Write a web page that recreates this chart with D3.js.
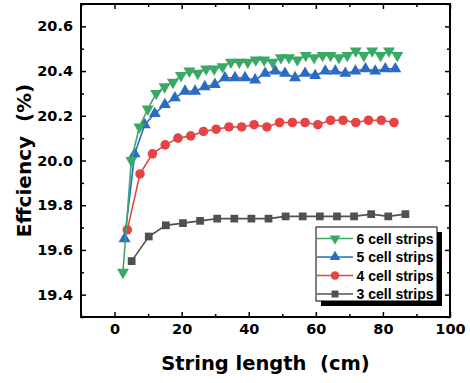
<!DOCTYPE html>
<html lang="en">
<head>
  <meta charset="UTF-8">
  <title>Efficiency vs string length</title>
  <script src="https://d3js.org/d3.v7.min.js"></script>
  <style>
    body { margin: 0; background: #fff; }
    .tick text { font-family: "DejaVu Sans", sans-serif; font-weight: bold; font-size: 14.5px; fill: #000; }
    .axis path { display: none; }
    .axis line { stroke: #000; stroke-width: 1.5px; }
  </style>
</head>
<body>
  <svg width="470" height="383" id="chart"></svg>
  <script>
    // series
    const seriesNames = ["6 cell strips", "5 cell strips", "4 cell strips", "3 cell strips"];

    const x6 = [2.5, 5.0, 7.4, 9.9, 12.4, 14.9, 17.4, 19.8, 22.3, 24.8, 27.3, 29.7, 32.2, 34.7, 37.2, 39.7, 42.1,
      44.6, 47.1, 49.6, 52.0, 54.5, 57.0, 59.5, 62.0, 64.4, 66.9, 69.4, 71.9, 74.3, 76.8, 79.3, 81.8, 84.3];
    const y6 = [19.50, 20.00, 20.15, 20.23, 20.30, 20.33, 20.35, 20.38, 20.40, 20.39, 20.41, 20.41, 20.42, 20.44, 20.44, 20.44, 20.45,
      20.45, 20.44, 20.46, 20.46, 20.45, 20.47, 20.46, 20.47, 20.47, 20.46, 20.47, 20.49, 20.47, 20.49, 20.47, 20.49, 20.47];

    const x5 = [3.0, 6.0, 9.0, 12.0, 15.0, 18.0, 21.0, 24.0, 26.9, 29.9, 32.9, 35.9, 38.9, 41.9,
      44.9, 47.9, 50.8, 53.8, 56.8, 59.8, 62.8, 65.8, 68.8, 71.8, 74.8, 77.7, 80.7, 83.7];
    const y5 = [19.65, 20.03, 20.16, 20.21, 20.25, 20.28, 20.31, 20.31, 20.33, 20.34, 20.37, 20.37, 20.37, 20.36,
      20.39, 20.40, 20.39, 20.37, 20.39, 20.38, 20.40, 20.40, 20.39, 20.40, 20.41, 20.40, 20.41, 20.41];

    const x4 = [3.8, 7.6, 11.3, 15.1, 18.9, 22.7, 26.5, 30.3, 34.1, 37.9, 41.6,
      45.4, 49.2, 53.0, 56.8, 60.6, 64.4, 68.1, 71.9, 75.7, 79.5, 83.3];
    const y4 = [19.69, 19.94, 20.03, 20.07, 20.10, 20.11, 20.13, 20.14, 20.15, 20.15, 20.16,
      20.15, 20.17, 20.17, 20.17, 20.16, 20.18, 20.18, 20.17, 20.18, 20.18, 20.17];

    const x3 = [5.1, 10.2, 15.3, 20.4, 25.5, 30.6, 35.7, 40.8, 45.9, 51.0, 56.1, 61.2, 66.3, 71.4, 76.5, 81.6, 86.7];
    const y3 = [19.55, 19.66, 19.71, 19.72, 19.73, 19.74, 19.74, 19.74, 19.74, 19.75, 19.75, 19.75, 19.75, 19.75, 19.76, 19.75, 19.76];

    const xMajor = [0, 20, 40, 60, 80, 100];
    const xMinor = [-10, 10, 30, 50, 70, 90];
    const yMajor = [19.4, 19.6, 19.8, 20.0, 20.2, 20.4, 20.6];
    const yMinor = [19.3, 19.5, 19.7, 19.9, 20.1, 20.3, 20.5, 20.7];

    const svg = d3.select("#chart");
    const margin = { top: 4, right: 20, bottom: 66, left: 81 };
    const width = 470 - margin.left - margin.right;
    const height = 383 - margin.top - margin.bottom;
    const g = svg.append("g").attr("transform", `translate(${margin.left},${margin.top})`);

    const x = d3.scaleLinear().domain([-10, 100]).range([0, width]);
    const y = d3.scaleLinear().domain([19.3, 20.7]).range([height, 0]);

    const series = [
      { name: seriesNames[3], xs: x3, ys: y3, color: "#505050", symbol: d3.symbolSquare, size: 60, rot: 0 },
      { name: seriesNames[2], xs: x4, ys: y4, color: "#e54444", symbol: d3.symbolCircle, size: 72, rot: 0 },
      { name: seriesNames[1], xs: x5, ys: y5, color: "#2b6bc2", symbol: d3.symbolTriangle, size: 62, rot: 0 },
      { name: seriesNames[0], xs: x6, ys: y6, color: "#3aa866", symbol: d3.symbolTriangle, size: 62, rot: 180 }
    ];

    // axes, ticks pointing inward on all four sides
    g.append("g").attr("class", "axis").attr("transform", `translate(0,${height})`)
      .call(d3.axisBottom(x).tickValues(xMajor).tickSizeInner(-5).tickSizeOuter(0).tickPadding(7));
    g.append("g").attr("class", "axis").attr("transform", `translate(0,${height})`)
      .call(d3.axisBottom(x).tickValues(xMinor).tickSizeInner(-3).tickSizeOuter(0).tickFormat(""));
    g.append("g").attr("class", "axis")
      .call(d3.axisTop(x).tickValues(xMajor).tickSizeInner(-5).tickSizeOuter(0).tickFormat(""));
    g.append("g").attr("class", "axis")
      .call(d3.axisTop(x).tickValues(xMinor).tickSizeInner(-3).tickSizeOuter(0).tickFormat(""));

    g.append("g").attr("class", "axis")
      .call(d3.axisLeft(y).tickValues(yMajor).tickSizeInner(-5).tickSizeOuter(0).tickPadding(8).tickFormat(d3.format(".1f")));
    g.append("g").attr("class", "axis")
      .call(d3.axisLeft(y).tickValues(yMinor).tickSizeInner(-3).tickSizeOuter(0).tickFormat(""));
    g.append("g").attr("class", "axis").attr("transform", `translate(${width},0)`)
      .call(d3.axisRight(y).tickValues(yMajor).tickSizeInner(-5).tickSizeOuter(0).tickFormat(""));
    g.append("g").attr("class", "axis").attr("transform", `translate(${width},0)`)
      .call(d3.axisRight(y).tickValues(yMinor).tickSizeInner(-3).tickSizeOuter(0).tickFormat(""));

    g.append("rect")
      .attr("width", width).attr("height", height)
      .attr("fill", "none").attr("stroke", "#000").attr("stroke-width", 2);

    // series
    const line = d3.line().x(d => x(d[0])).y(d => y(d[1]));
    series.forEach(s => {
      const pts = s.xs.map((v, i) => [v, s.ys[i]]);
      g.append("path").datum(pts)
        .attr("d", line).attr("fill", "none")
        .attr("stroke", s.color).attr("stroke-width", 1.6);
      g.selectAll(null).data(pts).join("path")
        .attr("d", d3.symbol().type(s.symbol).size(s.size))
        .attr("transform", d => `translate(${x(d[0])},${y(d[1])}) rotate(${s.rot})`)
        .attr("fill", s.color);
    });

    // axis titles
    svg.append("text")
      .attr("x", margin.left + width / 2).attr("y", 370)
      .attr("text-anchor", "middle")
      .style("font-family", "DejaVu Sans").style("font-weight", "bold").style("font-size", "19.5px")
      .text("String length\u00a0 (cm)");
    svg.append("text")
      .attr("transform", `translate(31,${margin.top + height / 2}) rotate(-90)`)
      .attr("text-anchor", "middle")
      .style("font-family", "DejaVu Sans").style("font-weight", "bold").style("font-size", "20px")
      .text("Effciency\u00a0 (%)");

    // legend with drop shadow
    const lg = svg.append("g").attr("transform", "translate(316,227)");
    lg.append("rect").attr("x", 5).attr("y", 5).attr("width", 121).attr("height", 74).attr("fill", "#000");
    lg.append("rect").attr("width", 121).attr("height", 74).attr("fill", "#fff").attr("stroke", "#000").attr("stroke-width", 1);
    const legendOrder = series.slice().reverse();
    legendOrder.forEach((s, i) => {
      const ry = 11.5 + i * 18.5;
      lg.append("line").attr("x1", 1).attr("x2", 37).attr("y1", ry).attr("y2", ry)
        .attr("stroke", s.color).attr("stroke-width", 1.6);
      lg.append("path")
        .attr("d", d3.symbol().type(s.symbol).size(s.size * 0.8))
        .attr("transform", `translate(19,${ry}) rotate(${s.rot})`)
        .attr("fill", s.color);
      lg.append("text").attr("x", 40.5).attr("y", ry).attr("dy", "0.36em")
        .style("font-family", "Liberation Sans, Arial").style("font-weight", "bold").style("font-size", "14px")
        .text(s.name);
    });
  </script>
</body>
</html>
